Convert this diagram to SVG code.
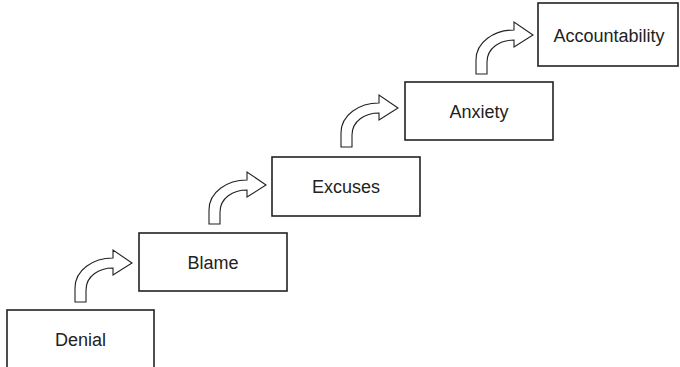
<svg xmlns="http://www.w3.org/2000/svg" width="680" height="367" viewBox="0 0 680 367">
<defs>
<style>
.box{fill:#fff;stroke:#222;stroke-width:1.6}
.lbl{font-family:"Liberation Sans",Arial,sans-serif;font-size:18px;fill:#222;text-anchor:middle}
.arr{fill:#fff;stroke:#222;stroke-width:1.1;stroke-linejoin:miter}
</style>
<path id="ca" d="M0,0 L0,-14 C0,-32 18,-44 38,-44 L38,-52 L57,-39 L38,-27 L38,-34 C24,-34 11,-26 11,-12 L11,0 Z"/>
</defs>
<rect width="680" height="367" fill="#fff"/>
<g id="connectors">
<use href="#ca" class="arr" x="75" y="302"/>
<use href="#ca" class="arr" x="209" y="224"/>
<use href="#ca" class="arr" x="341" y="147"/>
<use href="#ca" class="arr" x="476" y="74"/>
</g>
<g id="denial"><rect class="box" x="7" y="310" width="147" height="60"/><text class="lbl" x="80.5" y="345.5">Denial</text></g>
<g id="blame"><rect class="box" x="139" y="233" width="148" height="58"/><text class="lbl" x="213" y="268.5">Blame</text></g>
<g id="excuses"><rect class="box" x="272" y="157" width="148" height="59"/><text class="lbl" x="346" y="192.5">Excuses</text></g>
<g id="anxiety"><rect class="box" x="405" y="82" width="148" height="58"/><text class="lbl" x="479" y="117.5">Anxiety</text></g>
<g id="accountability"><rect class="box" x="538" y="3" width="140" height="63"/><text class="lbl" x="609" y="41.5">Accountability</text></g>
</svg>
